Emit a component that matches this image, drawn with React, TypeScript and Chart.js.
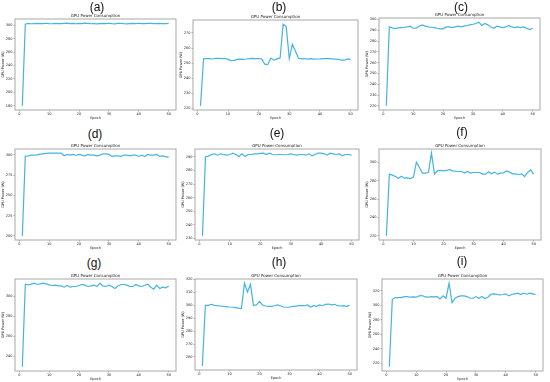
import React, { useEffect, useRef } from "react";
import { Chart, registerables } from "chart.js";
Chart.register(...registerables);

const epochs = [1,2,3,4,5,6,7,8,9,10,11,12,13,14,15,16,17,18,19,20,21,22,23,24,25,26,27,28,29,30,31,32,33,34,35,36,37,38,39,40,41,42,43,44,45,46,47,48,49,50];
const xTicks = [0, 10, 20, 30, 40, 50];

const powerA = [180,301.5,302.8,302.2,302.4,302.6,302.3,302.5,302.9,302.4,302.2,302.7,302.5,302.3,302.8,303.0,302.4,302.6,302.2,302.8,302.5,303.1,302.6,302.2,302.5,302.0,302.3,302.6,302.4,302.9,302.3,302.1,302.6,302.8,302.3,302.0,302.4,302.7,302.5,302.9,302.5,302.4,302.8,302.6,302.3,302.5,302.7,302.4,302.3,302.6];
const powerB = [221.5,252.8,253.0,253.0,252.7,253.2,253.1,253.0,253.1,252.4,251.6,251.8,252.4,252.6,252.5,252.7,253.0,253.1,252.9,253.0,252.6,249.3,249.0,253.3,251.9,252.8,253.4,275.9,274.3,253.0,262.4,258.0,253.2,252.8,253.0,252.6,252.9,252.6,252.7,252.8,253.0,252.9,253.0,252.8,252.6,252.5,252.0,251.9,252.7,252.4];
const powerC = [220,293.1,292.2,291.6,292.2,292.5,292.8,293.1,293.8,291.9,291.9,293.8,295.0,293.8,293.1,292.8,292.5,291.9,291.3,291.3,293.1,293.1,292.5,293.1,293.8,293.1,293.8,294.4,295.0,295.6,296.3,297.5,294.4,296.3,295.0,293.1,291.9,293.8,293.1,292.5,293.1,294.4,293.1,292.5,293.1,292.5,293.1,291.9,290.6,291.9];
const powerD = [200,298.4,298.8,299.6,299.6,300.0,300.9,301.3,301.7,302.1,302.1,302.1,302.1,302.1,298.8,300.5,299.6,300.5,299.2,300.5,299.6,298.8,300.5,299.6,299.6,298.8,299.6,301.3,301.3,300.5,298.0,298.8,298.8,298.0,299.6,299.6,298.8,299.6,299.6,298.0,299.6,298.0,300.5,299.6,299.6,300.5,298.0,298.8,297.6,297.6];
const powerE = [232.0,290.0,290.5,291.7,292.2,291.2,292.2,291.7,291.2,291.7,292.7,291.7,290.2,292.2,290.2,291.7,291.7,292.2,292.2,292.5,292.7,291.7,292.7,291.7,291.5,291.7,291.7,291.5,291.7,292.2,291.7,291.2,291.7,291.7,291.2,292.2,290.7,291.7,292.7,292.7,292.2,291.2,292.7,292.2,291.7,292.2,290.7,291.7,291.7,291.2];
const powerF = [220,287.3,286.2,284.7,282.9,285.1,282.9,283.3,282.5,284.0,300.4,294.5,288.4,288.4,289.1,310.2,287.6,290.9,291.3,290.9,291.3,292.4,290.9,290.5,290.2,290.2,288.4,290.2,288.4,289.1,289.1,289.1,287.3,287.3,289.8,287.6,289.5,287.3,288.4,288.7,290.9,289.5,287.6,287.6,286.9,287.6,284.7,289.1,292.0,287.3];
const powerG = [229.7,312.0,311.3,312.0,313.0,311.7,312.3,313.0,312.3,311.3,310.7,311.0,310.3,310.3,309.0,310.7,309.0,309.7,309.7,310.7,311.7,311.0,309.7,310.3,311.0,309.7,313.0,310.3,309.7,311.0,309.7,307.7,310.3,311.7,311.7,311.0,309.7,309.7,311.7,310.3,309.7,311.0,312.0,309.0,307.0,311.0,307.7,309.0,308.3,310.3];
const powerH = [253.1,300.0,300.0,300.8,300.0,299.7,299.5,299.2,299.0,298.7,298.5,298.2,297.9,297.7,317.2,310.3,316.2,300.0,300.3,303.1,300.3,299.5,299.2,299.2,299.7,300.3,299.7,298.7,298.5,298.5,299.2,299.2,299.7,299.7,299.7,300.3,298.7,299.7,299.2,300.3,299.7,300.8,301.0,300.3,300.8,299.7,299.5,299.7,299.2,300.0];
const powerI = [215.4,308.3,310.6,310.6,310.6,312.0,312.0,311.1,311.5,311.1,312.9,313.4,311.5,311.1,312.0,311.5,312.0,308.8,312.9,309.7,330.4,303.7,309.7,312.0,312.9,312.9,312.0,309.7,309.7,312.0,309.7,312.0,309.2,311.1,315.2,315.7,315.2,314.3,314.8,315.7,312.9,314.8,315.7,316.6,314.8,316.6,315.2,316.6,315.7,314.8];

const ticksA = [180, 200, 220, 240, 260, 280, 300];
const ticksB = [220, 230, 240, 250, 260, 270];
const ticksC = [220, 230, 240, 250, 260, 270, 280, 290, 300];
const ticksD = [200, 225, 250, 275, 300];
const ticksE = [230, 240, 250, 260, 270, 280, 290];
const ticksF = [220, 240, 260, 280, 300];
const ticksG = [240, 260, 280, 300];
const ticksH = [260, 270, 280, 290, 300, 310, 320];
const ticksI = [220, 240, 260, 280, 300, 320];

const panelLetters = ["(a)", "(b)", "(c)", "(d)", "(e)", "(f)", "(g)", "(h)", "(i)"];
const chartTitle = "GPU Power Consumption";
const xTitle = "Epoch";
const yTitle = "GPU Power (W)";

const series = [powerA, powerB, powerC, powerD, powerE, powerF, powerG, powerH, powerI];
const tickSets = [ticksA, ticksB, ticksC, ticksD, ticksE, ticksF, ticksG, ticksH, ticksI];

// layout: plot frame [left, top, right, bottom] and letter centre [x, y]
const frames = [
  [15, 19, 176, 110], [193, 20, 358, 110], [379, 18, 540, 110],
  [15, 149, 176, 240], [195, 149, 359, 240], [379, 149, 541, 240],
  [15, 279, 176, 371], [195, 279, 357, 370], [382, 279, 543, 371],
];
const letterPos = [
  [97, 7], [279, 7], [461, 7],
  [95, 134], [277, 133], [462, 132],
  [94, 263], [279, 262], [462, 261],
];

const Y_W = 15;
const X_H = 11;
const PAD = 6;
const LINE = "#45b3e4";
const TXT = "#222";
const SMALL = 3.5;
const FAM = "DejaVu Sans";

const framePlugin = {
  id: "frameTitle",
  afterDraw(chart: any) {
    const { ctx, chartArea } = chart;
    const { left, top, right, bottom } = chartArea;
    ctx.save();
    ctx.strokeStyle = "#a8a8a8";
    ctx.lineWidth = 1;
    ctx.strokeRect(left, top, right - left, bottom - top);
    ctx.fillStyle = TXT;
    ctx.font = `4px "${FAM}"`;
    ctx.textAlign = "center";
    ctx.textBaseline = "middle";
    ctx.fillText(chartTitle, (left + right) / 2, top - 3);
    ctx.restore();
  },
};

function Panel({ values, ticks, frame }: { values: number[]; ticks: number[]; frame: number[] }) {
  const ref = useRef<HTMLCanvasElement>(null);
  const [l, t, r, b] = frame;
  const w = r - l + Y_W + PAD;
  const h = b - t + PAD + X_H;
  useEffect(() => {
    const lo = Math.min(...values);
    const hi = Math.max(...values);
    const m = (hi - lo) * 0.05;
    const chart = new Chart(ref.current as HTMLCanvasElement, {
      type: "line",
      data: {
        datasets: [
          {
            data: epochs.map((e, i) => ({ x: e, y: values[i] })),
            borderColor: LINE,
            borderWidth: 1.2,
            pointRadius: 0,
            tension: 0,
            fill: false,
          },
        ],
      },
      options: {
        animation: false,
        responsive: false,
        maintainAspectRatio: false,
        layout: { padding: { left: 0, top: PAD, right: PAD, bottom: 0 } },
        plugins: { legend: { display: false }, tooltip: { enabled: false }, title: { display: false } },
        scales: {
          x: {
            type: "linear",
            min: -1.45,
            max: 52.45,
            afterBuildTicks: (s: any) => { s.ticks = xTicks.map((v) => ({ value: v })); },
            afterFit: (s: any) => { s.height = X_H; },
            grid: { drawOnChartArea: false, drawTicks: true, tickLength: 1.5, color: "#777", lineWidth: 0.6 },
            border: { display: false },
            ticks: { font: { size: SMALL, family: FAM }, color: TXT, padding: 0.5, maxRotation: 0, autoSkip: false, callback: (v: any) => String(v) },
            title: { display: true, text: xTitle, font: { size: SMALL, family: FAM }, color: TXT, padding: { top: 0, bottom: 1 } },
          },
          y: {
            type: "linear",
            min: lo - m,
            max: hi + m,
            afterBuildTicks: (s: any) => { s.ticks = ticks.map((v) => ({ value: v })); },
            afterFit: (s: any) => { s.width = Y_W; },
            grid: { drawOnChartArea: false, drawTicks: true, tickLength: 1.5, color: "#777", lineWidth: 0.6 },
            border: { display: false },
            ticks: { font: { size: SMALL, family: FAM }, color: TXT, padding: 1, autoSkip: false, callback: (v: any) => String(v) },
            title: { display: true, text: yTitle, font: { size: SMALL, family: FAM }, color: TXT, padding: { top: 1, bottom: 0 } },
          },
        },
      },
      plugins: [framePlugin],
    } as any);
    return () => chart.destroy();
  }, []);
  return (
    <canvas
      ref={ref}
      width={w}
      height={h}
      style={{ position: "absolute", left: l - Y_W, top: t - PAD, width: w, height: h }}
    />
  );
}

export default function App() {
  return (
    <div style={{ position: "absolute", left: 0, top: 0, width: 550, height: 382, background: "#fff", overflow: "hidden" }}>
      {series.map((vals, i) => (
        <Panel key={i} values={vals} ticks={tickSets[i]} frame={frames[i]} />
      ))}
      {panelLetters.map((txt, i) => (
        <div
          key={"l" + i}
          style={{
            position: "absolute",
            left: letterPos[i][0],
            top: letterPos[i][1],
            transform: "translate(-50%, -50%)",
            fontFamily: "Liberation Sans, Arial, sans-serif",
            fontSize: 12,
            color: "#111",
            lineHeight: 1,
            whiteSpace: "nowrap",
          }}
        >
          {txt}
        </div>
      ))}
    </div>
  );
}
